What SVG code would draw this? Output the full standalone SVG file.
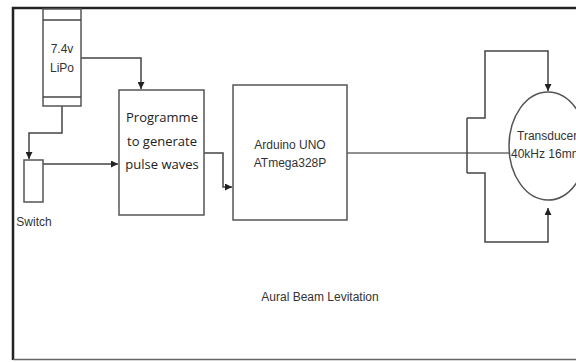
<svg xmlns="http://www.w3.org/2000/svg" width="576" height="362" viewBox="0 0 576 362">
<defs>
<marker id="ah" viewBox="0 0 10 10" refX="10" refY="5" markerWidth="7" markerHeight="7" markerUnits="userSpaceOnUse" orient="auto"><path d="M0,0 L10,5 L0,10 z" fill="#222"/></marker>
<style>
.box{fill:#fff;stroke:#555;stroke-width:1.5}
.ln{fill:none;stroke:#444;stroke-width:1.5}
.t{font-family:"Liberation Sans",Arial,sans-serif;font-size:12px;fill:#333;text-anchor:middle}
.o{font-family:"Open Sans","Noto Sans",sans-serif;font-size:13px;fill:#222;text-anchor:middle}
</style>
</defs>
<rect width="576" height="362" fill="#fff"/>
<g id="frame">
<path d="M13,360 L13,8 L576,8" fill="none" stroke="#222" stroke-width="2.5"/>
<path d="M13,359.5 L576,359.5" fill="none" stroke="#666" stroke-width="1.5"/>
</g>
<g id="connectors">
<path class="ln" d="M81,58 H141 V89" marker-end="url(#ah)"/>
<path class="ln" d="M62,106 V133 H29 V159" marker-end="url(#ah)"/>
<path class="ln" d="M43,164 H118" marker-end="url(#ah)"/>
<path class="ln" d="M204,153 H223 V187 H232" marker-end="url(#ah)"/>
<path d="M347,153 H510" fill="none" stroke="#222" stroke-width="1.2"/>
<path class="ln" d="M467,118 V173"/>
<path class="ln" d="M467,118 H485 V51 H548 V91" marker-end="url(#ah)"/>
<path class="ln" d="M467,173 H485 V242 H548 V208" marker-end="url(#ah)"/>
</g>
<g id="battery">
<rect class="box" x="43" y="9" width="38" height="97"/>
<line class="ln" x1="43" y1="20" x2="81" y2="20"/>
<line class="ln" x1="43" y1="97" x2="81" y2="97"/>
<text class="t" x="62" y="53">7.4v</text>
<text class="t" x="62" y="72">LiPo</text>
</g>
<g id="switch">
<rect class="box" x="24" y="160" width="19" height="42"/>
<text class="t" x="34" y="226">Switch</text>
</g>
<g id="programme">
<rect class="box" x="119" y="90" width="85" height="125"/>
<text class="o" x="162" y="122">Programme</text>
<text class="o" x="162" y="146">to generate</text>
<text class="o" x="162" y="169">pulse waves</text>
</g>
<g id="arduino">
<rect class="box" x="233" y="85" width="114" height="135"/>
<text class="t" x="290" y="149">Arduino UNO</text>
<text class="t" x="290" y="167">ATmega328P</text>
</g>
<g id="transducer">
<ellipse cx="548" cy="146" rx="39" ry="54" fill="#fff" stroke="#555" stroke-width="1.5"/>
<text class="t" x="548" y="140" style="text-anchor:start" dx="-31">Transducer</text>
<text class="t" x="511" y="158" style="text-anchor:start">40kHz 16mm</text>
</g>
<g id="title">
<text class="t" x="320" y="301">Aural Beam Levitation</text>
</g>
</svg>
